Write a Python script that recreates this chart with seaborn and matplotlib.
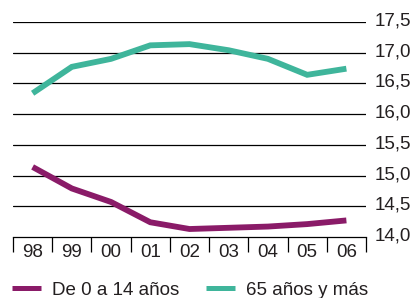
import matplotlib
matplotlib.use("Agg")
import matplotlib.pyplot as plt
import matplotlib.transforms as mtransforms
from matplotlib.lines import Line2D
import seaborn as sns
import pandas as pd
import numpy as np

years = ["98", "99", "00", "01", "02", "03", "04", "05", "06"]
young = [15.14, 14.79, 14.57, 14.24, 14.13, 14.15, 14.17, 14.21, 14.27]
old = [16.34, 16.77, 16.90, 17.12, 17.14, 17.04, 16.90, 16.64, 16.74]
series_names = ["De 0 a 14 años", "65 años y más"]
yticks = [14.0, 14.5, 15.0, 15.5, 16.0, 16.5, 17.0, 17.5]
ytick_labels = ["14,0", "14,5", "15,0", "15,5", "16,0", "16,5", "17,0", "17,5"]

colors = {"De 0 a 14 años": "#8a1b68", "65 años y más": "#3fb59b"}

sns.set_style("white")
plt.rcParams["font.family"] = ["Liberation Sans", "DejaVu Sans"]
txt_color = "#231f20"

df = pd.DataFrame({
    "x": list(range(len(years))) * 2,
    "value": young + old,
    "serie": [series_names[0]] * len(years) + [series_names[1]] * len(years),
})

fig = plt.figure(figsize=(4.15, 2.98), dpi=100)
ax = fig.add_axes([13 / 415, 1 - 237 / 298, (366 - 13) / 415, (237 - 22) / 298])

sns.lineplot(data=df, x="x", y="value", hue="serie", palette=colors,
             linewidth=4.2, ax=ax, legend=False, solid_capstyle="butt",
             solid_joinstyle="miter")

ax.set_xlim(-0.5, len(years) - 0.5)
ax.set_ylim(14.0, 17.5)

# grid lines
for v in yticks[1:]:
    ax.axhline(v, color="black", lw=0.9, zorder=0)

for s in ["top", "right", "left"]:
    ax.spines[s].set_visible(False)
ax.spines["bottom"].set_color("black")
ax.spines["bottom"].set_linewidth(0.9)

ax.set_xticks(range(len(years)))
ax.set_xticklabels(years)
ax.set_xticks(np.arange(-0.5, len(years), 1.0), minor=True)
ax.tick_params(axis="x", which="major", bottom=False, length=0, pad=5,
               labelsize=13.5, labelcolor=txt_color)
ax.tick_params(axis="x", which="minor", bottom=True, length=10.5, width=0.9,
               color="black", direction="out")

ax.yaxis.tick_right()
ax.set_yticks(yticks)
ax.set_yticklabels(ytick_labels)
ax.tick_params(axis="y", length=0, pad=6.5, labelsize=13.5, labelcolor=txt_color)
offset = mtransforms.ScaledTranslation(0, 3 / 100, fig.dpi_scale_trans)
for lab in ax.get_yticklabels():
    lab.set_transform(lab.get_transform() + offset)

ax.set_xlabel("")
ax.set_ylabel("")

handles = [Line2D([], [], color=colors[n], lw=3.6, solid_capstyle="butt") for n in series_names]
fig.legend(handles, series_names, loc="center left",
           bbox_to_anchor=(12 / 415, 1 - 290 / 298), ncol=2, frameon=False,
           handlelength=1.55, handletextpad=0.6, columnspacing=1.4,
           borderpad=0, borderaxespad=0, labelcolor=txt_color, fontsize=13.5)

fig.savefig("out.png", dpi=100)
